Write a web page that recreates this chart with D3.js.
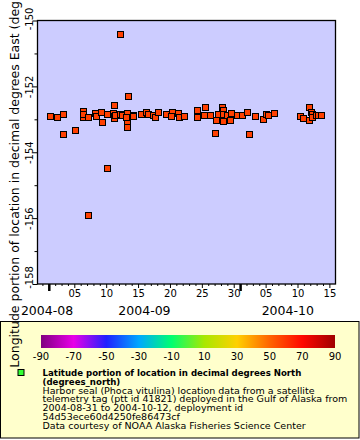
<!DOCTYPE html>
<html><head><meta charset="utf-8">
<script src="https://cdn.jsdelivr.net/npm/d3@7/dist/d3.min.js"></script>
<style>
html,body{margin:0;padding:0;background:#fff;}
svg{display:block;font-family:"DejaVu Sans",sans-serif;}
</style></head>
<body><svg id="chart" width="360" height="440"></svg>
<script>
// ---- data ----
const times = [
 "2004-09-01T10:00Z","2004-09-02T11:00Z","2004-09-03T08:00Z","2004-09-03T10:00Z","2004-09-03T07:30Z",
 "2004-09-05T08:00Z","2004-09-06T12:00Z","2004-09-06T13:00Z","2004-09-06T11:00Z","2004-09-07T08:00Z",
 "2004-09-08T09:00Z","2004-09-08T12:00Z","2004-09-07T05:30Z","2004-09-09T10:00Z","2004-09-09T10:30Z",
 "2004-09-10T05:00Z","2004-09-10T05:00Z","2004-09-11T07:30Z","2004-09-11T07:00Z","2004-09-11T09:00Z",
 "2004-09-11T10:00Z","2004-09-11T12:00Z","2004-09-12T07:00Z","2004-09-12T07:00Z","2004-09-12T14:00Z",
 "2004-09-13T08:30Z","2004-09-13T12:00Z","2004-09-13T11:00Z","2004-09-13T10:00Z","2004-09-13T06:00Z",
 "2004-09-14T08:00Z","2004-09-14T10:00Z","2004-09-15T13:00Z","2004-09-16T08:00Z","2004-09-16T17:00Z",
 "2004-09-17T11:30Z","2004-09-17T18:00Z","2004-09-18T07:30Z","2004-09-19T11:30Z","2004-09-20T12:00Z",
 "2004-09-20T09:00Z","2004-09-21T11:00Z","2004-09-21T12:00Z","2004-09-22T08:30Z","2004-09-24T08:00Z",
 "2004-09-24T09:00Z","2004-09-25T14:30Z","2004-09-25T12:00Z","2004-09-26T09:30Z","2004-09-27T05:00Z",
 "2004-09-27T08:00Z","2004-09-27T16:30Z","2004-09-28T06:30Z","2004-09-28T11:30Z","2004-09-28T12:30Z",
 "2004-09-28T10:30Z","2004-09-29T03:30Z","2004-09-29T13:30Z","2004-09-29T17:00Z","2004-09-30T15:00Z",
 "2004-10-01T10:00Z","2004-10-02T04:30Z","2004-10-02T12:30Z","2004-10-03T12:00Z","2004-10-04T18:00Z",
 "2004-10-05T04:00Z","2004-10-05T13:00Z","2004-10-06T11:30Z","2004-10-10T12:30Z","2004-10-11T00:00Z",
 "2004-10-11T23:30Z","2004-10-12T00:00Z","2004-10-12T06:00Z","2004-10-12T10:00Z","2004-10-12T09:00Z",
 "2004-10-13T00:45Z","2004-10-13T10:30Z","2004-10-13T20:30Z"
];
const longitudes = [
 -152.92,-152.95,-152.88,-152.86,-153.47,
 -153.35,-152.77,-152.97,-152.87,-152.95,
 -152.84,-152.92,-155.95,-152.80,-153.11,
 -152.86,-154.51,-152.59,-152.84,-152.92,
 -153.00,-152.89,-150.44,-152.86,-152.90,
 -152.84,-152.32,-153.12,-153.25,-152.96,
 -152.89,-152.94,-152.86,-152.81,-152.87,
 -152.89,-152.97,-152.81,-152.86,-152.81,
 -152.92,-152.84,-152.96,-152.92,-152.74,
 -152.96,-152.65,-152.89,-152.89,-153.45,
 -153.04,-152.86,-152.65,-152.75,-152.86,
 -153.07,-152.89,-153.04,-152.85,-152.89,
 -152.89,-152.80,-153.47,-152.92,-153.01,
 -152.87,-152.89,-152.83,-152.92,-152.98,
 -152.65,-153.04,-152.81,-152.87,-152.95,
 -152.89,-152.89,-152.89
];
// latitude (colour variable), all close to 57.9 N
const latitudes = times.map(() => 57.9);

const yTicks = [-158,-157,-156,-155,-154,-153,-152,-151,-150];
const colorTicks = [-90,-70,-50,-30,-10,10,30,50,70,90];
const paletteStops = [-90,-70,-50,-30,-10,10,30,50,70,90];
const paletteColors = ["#800080","#e800e8","#2020ff","#00a8ff","#00ff70","#a8e800","#ffd000","#ff6400","#ff0800","#a00000"];

const yTitle = "Longitude portion of location in decimal degrees East (degrees_east)";
const monthLabels = ["2004-08","2004-09","2004-10"];
const legendTitle = ["Latitude portion of location in decimal degrees North","(degrees_north)"];
const legendLines = [
 "Harbor seal (Phoca vitulina) location data from a satellite",
 "telemetry tag (ptt id 41821) deployed in the Gulf of Alaska from",
 "2004-08-31 to 2004-10-12, deployment id",
 "54d53ece60d4250fe86473cf",
 "Data courtesy of NOAA Alaska Fisheries Science Center"
];

// ---- layout ----
const svg = d3.select("#chart");
const L = 37.5, R = 335.5, T = 20.5, B = 284;

const x = d3.scaleUtc()
  .domain([new Date("2004-08-30T05:30Z"), new Date("2004-10-15T23:00Z")])
  .range([L, R]);
const y = d3.scaleLinear().domain([-158, -150]).range([B, T]);

const color = d3.scaleLinear().domain(paletteStops).range(paletteColors).interpolate(d3.interpolateRgb).clamp(true);

svg.append("rect").attr("width",360).attr("height",440).attr("fill","#fff");

// plot background
svg.append("rect").attr("x",L).attr("y",T).attr("width",R-L).attr("height",B-T)
  .attr("fill","#ccccff");

// x axis: daily ticks
const days = d3.utcDay.range(new Date("2004-08-31T00:00Z"), new Date("2004-10-16T00:00Z"));
const gx = svg.append("g").attr("transform",`translate(0,${B})`)
  .call(d3.axisBottom(x).tickValues(days).tickSizeOuter(0).tickPadding(3)
    .tickFormat(d => {
      const dd = d.getUTCDate();
      return (dd % 5 === 0 && dd <= 30) ? d3.utcFormat("%d")(d) : "";
    }));
gx.select(".domain").remove();
gx.selectAll(".tick line").attr("stroke","#000")
  .attr("y2", d => d.getUTCDate() === 1 ? 7 : (d.getUTCDate() % 5 === 0 ? 4 : 2))
  .attr("stroke-width", d => d.getUTCDate() === 1 ? 2.5 : 1);
gx.selectAll(".tick text").attr("font-size",10).attr("fill","#000").attr("font-family","DejaVu Sans")
  .attr("y",6);

// month labels
const monthSpans = [
  [x.domain()[0], new Date("2004-09-01T00:00Z")],
  [new Date("2004-09-01T00:00Z"), new Date("2004-10-01T00:00Z")],
  [new Date("2004-10-01T00:00Z"), x.domain()[1]]
];
svg.append("g").selectAll("text").data(monthLabels).join("text")
  .attr("x",(d,i) => {
    const c = (x(monthSpans[i][0]) + x(monthSpans[i][1]))/2;
    return i === 0 ? 47 : c;
  })
  .attr("y",315).attr("text-anchor","middle").attr("font-size",12.5).attr("fill","#000")
  .text(d => d);

// y axis
const gy = svg.append("g").attr("transform",`translate(${L},0)`)
  .call(d3.axisLeft(y).tickValues(yTicks).tickSizeOuter(0)
    .tickFormat(d => d % 2 === 0 ? d : ""));
gy.select(".domain").remove();
gy.selectAll(".tick line").attr("x2", d => d % 2 === 0 ? -5 : -3).attr("stroke","#000");
gy.selectAll(".tick text").attr("font-size",10).attr("fill","#000").attr("font-family","DejaVu Sans")
  .attr("transform","rotate(-90)").attr("text-anchor","middle")
  .attr("x", d => d === -158 ? 7 : (d === -150 ? 2 : 0)).attr("y",-5).attr("dy",0).attr("dx",0);

// points
svg.append("g").selectAll("rect").data(times.map((t,i) => ({t:new Date(t), lon:longitudes[i], lat:latitudes[i]})))
  .join("rect")
  .attr("x", d => Math.round(x(d.t)) - 3.5).attr("y", d => Math.round(y(d.lon)) - 3.5)
  .attr("width",6).attr("height",6)
  .attr("fill", d => color(d.lat)).attr("stroke","#000").attr("stroke-width",1);

// plot frame
svg.append("rect").attr("x",L).attr("y",T).attr("width",R-L).attr("height",B-T)
  .attr("fill","none").attr("stroke","#000").attr("stroke-width",1.3);

// ---- legend ----
svg.append("rect").attr("x",0.5).attr("y",321.5).attr("width",358.5).attr("height",116.5)
  .attr("fill","#ffffcc").attr("stroke","#000").attr("stroke-width",1);

const cx = d3.scaleLinear().domain([-90,90]).range([41,335]);
const defs = svg.append("defs");
const grad = defs.append("linearGradient").attr("id","cbar").attr("x1","0%").attr("x2","100%");
grad.selectAll("stop").data(paletteStops).join("stop")
  .attr("offset", d => ((d+90)/180*100) + "%").attr("stop-color", d => color(d));
svg.append("rect").attr("x",cx(-90)).attr("y",335).attr("width",cx(90)-cx(-90)).attr("height",13)
  .attr("fill","url(#cbar)");
svg.append("g").selectAll("text").data(colorTicks).join("text")
  .attr("x", d => cx(d)).attr("y",360).attr("text-anchor","middle").attr("font-size",10).attr("fill","#000")
  .text(d => d);

svg.append("rect").attr("x",18).attr("y",369.5).attr("width",6).attr("height",6)
  .attr("fill","#33ff33").attr("stroke","#000").attr("stroke-width",1);
svg.append("g").selectAll("text").data(legendTitle).join("text")
  .attr("x",42.5).attr("y",(d,i) => 376 + i*8.8).attr("font-size",8.6).attr("font-weight","bold").attr("fill","#000")
  .text(d => d);
svg.append("g").selectAll("text").data(legendLines).join("text")
  .attr("x",42.5).attr("y",(d,i) => 393.5 + i*8.8).attr("font-size",9.5).attr("fill","#000")
  .text(d => d);

// y title (drawn over legend)
svg.append("text").attr("transform",`translate(19,152) rotate(-90)`)
  .attr("text-anchor","middle").attr("font-size",12.5).attr("fill","#000").text(yTitle);
</script></body></html>
